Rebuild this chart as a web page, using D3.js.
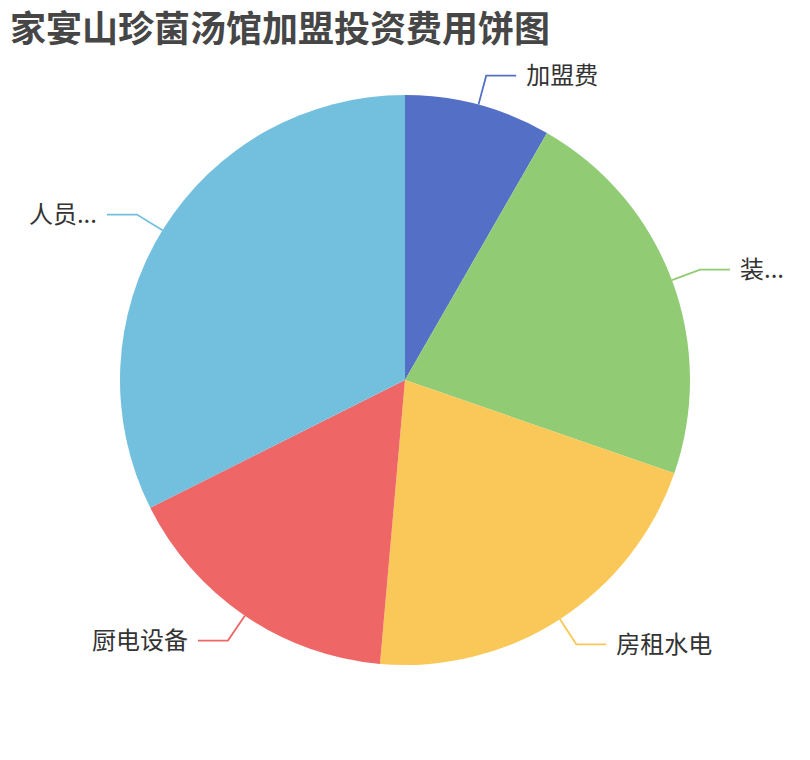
<!DOCTYPE html>
<html>
<head>
<meta charset="utf-8">
<script src="https://cdn.jsdelivr.net/npm/d3@7"></script>
<style>
  body { margin: 0; background: #fff; }
  text { font-family: "Noto Sans CJK SC", "Noto Sans", sans-serif; }
</style>
</head>
<body>
<script>
var width = 810,
    height = 760;

// 费用类别与占比
var categories = ["加盟费", "装修费用", "房租水电", "厨电设备", "人员工资"];
var values = [8.3, 22.0, 21.1, 16.2, 32.4];
var colors = ["#5470c6", "#91cc75", "#fac858", "#ee6666", "#73c0de"];
var title = "家宴山珍菌汤馆加盟投资费用饼图";

var radius = Math.min(width, height) / 2 * 0.75,
    cx = width / 2,
    cy = height / 2;

var svg = d3.select("body").append("svg")
    .attr("width", width)
    .attr("height", height);

svg.append("text")
    .attr("x", 10)
    .attr("y", 42)
    .style("font-size", "36px")
    .style("font-weight", "bold")
    .style("fill", "#464646")
    .text(title);

var data = categories.map(function(c, i) { return { name: c, value: values[i], color: colors[i] }; });

var pie = d3.pie()
    .sort(null)
    .value(function(d) { return d.value; });

var arc = d3.arc()
    .innerRadius(0)
    .outerRadius(radius);

var g = svg.append("g")
    .attr("transform", "translate(" + cx + "," + cy + ")");

var arcs = pie(data);

g.selectAll("path.slice")
    .data(arcs)
  .enter().append("path")
    .attr("class", "slice")
    .attr("d", arc)
    .style("fill", function(d) { return d.data.color; });

var len1 = 30, len2 = 30, gap = 10;

function pt(a, r) { return [Math.sin(a) * r, -Math.cos(a) * r]; }

arcs.forEach(function(d) {
  var mid = (d.startAngle + d.endAngle) / 2;
  var p1 = pt(mid, radius),
      p2 = pt(mid, radius + len1),
      right = p2[0] >= 0,
      p3 = [p2[0] + (right ? len2 : -len2), p2[1]];

  g.append("polyline")
      .attr("points", [p1, p2, p3].map(function(p) { return p.join(","); }).join(" "))
      .style("fill", "none")
      .style("stroke", d.data.color)
      .style("stroke-width", 1.8);

  var tx = p3[0] + (right ? gap : -gap);
  var label = g.append("text")
      .attr("x", tx)
      .attr("y", p3[1])
      .attr("dy", "0.35em")
      .attr("text-anchor", right ? "start" : "end")
      .style("font-size", "24px")
      .style("fill", "#333")
      .text(d.data.name);

  // 超出画布时截断并加省略号
  var maxW = right ? (width - (cx + tx)) - 10 : (cx + tx) - 10;
  var name = d.data.name;
  if (label.node().getComputedTextLength() > maxW) {
    for (var n = name.length - 1; n > 0; n--) {
      label.text(name.slice(0, n) + "...");
      if (label.node().getComputedTextLength() <= maxW) break;
    }
  }
});
</script>
</body>
</html>
